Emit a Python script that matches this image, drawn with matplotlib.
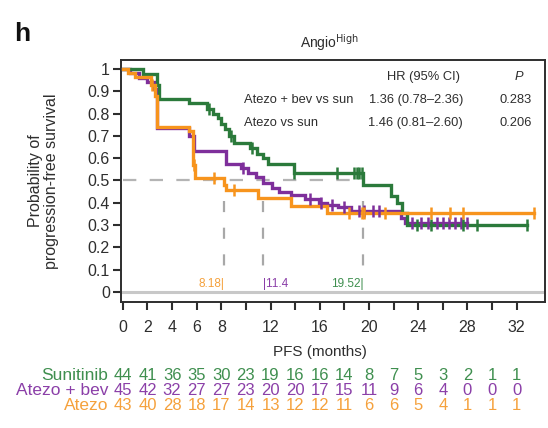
import numpy as np
import matplotlib
matplotlib.use("Agg")
import matplotlib.pyplot as plt
from matplotlib.transforms import blended_transform_factory

plt.rcParams['font.family'] = ['Liberation Sans', 'DejaVu Sans']

# Kaplan-Meier step data: times of drops (months) and survival after each drop
sun_t = [0, 1.6, 2.8, 2.9, 5.4, 6.8, 7.3, 7.7, 8.0, 8.3, 8.6, 9.0, 10.3, 10.9,
         11.4, 11.8, 13.9, 19.52, 21.8, 22.3, 22.7, 23.1]
sun_s = [1.0, 0.977, 0.93, 0.865, 0.845, 0.82, 0.80, 0.78, 0.755, 0.73, 0.70,
         0.67, 0.645, 0.62, 0.60, 0.575, 0.535, 0.48, 0.43, 0.40, 0.355, 0.30]
sun_end = 32.8
sun_cens = [7.0, 8.8, 10.5, 13.9, 17.4, 18.8, 19.0, 19.2, 19.4, 23.9, 25.0,
            27.6, 28.8, 32.8]

bev_t = [0, 0.6, 1.3, 2.0, 2.5, 2.8, 5.4, 5.8, 8.4, 9.6, 10.2, 10.8, 11.4,
         12.1, 12.7, 13.7, 14.8, 15.9, 16.6, 17.5, 18.5, 22.6, 22.9]
bev_s = [1.0, 0.98, 0.96, 0.94, 0.91, 0.735, 0.70, 0.63, 0.575, 0.555, 0.535,
         0.515, 0.49, 0.465, 0.45, 0.435, 0.415, 0.40, 0.39, 0.38, 0.365,
         0.33, 0.31]
bev_end = 28.0
bev_cens = [9.8, 15.2, 16.1, 17.0, 18.0, 19.2, 19.6, 20.3, 20.8, 23.5, 24.2,
            24.8, 25.5, 26.0, 26.5, 27.0, 27.5, 28.0]

atz_t = [0, 0.4, 1.0, 2.3, 2.6, 2.8, 5.4, 5.7, 5.9, 8.18, 8.4, 11.0, 13.7, 16.6]
atz_s = [1.0, 0.98, 0.965, 0.93, 0.88, 0.74, 0.72, 0.57, 0.51, 0.48, 0.455,
         0.42, 0.385, 0.355]
atz_end = 33.4
atz_cens = [2.4, 5.8, 7.4, 9.0, 18.4, 19.4, 19.6, 21.3, 25.0, 26.6, 27.6, 33.4]

medians = [8.18, 11.4, 19.52]
median_labels = ["8.18|", "|11.4", "19.52|"]

risk_times = list(range(0, 33, 2))
risk_names = ["Sunitinib", "Atezo + bev", "Atezo"]
risk_sun = [44, 41, 36, 35, 30, 23, 19, 16, 16, 14, 8, 7, 5, 3, 2, 1, 1]
risk_bev = [45, 42, 32, 27, 27, 23, 20, 20, 17, 15, 11, 9, 6, 4, 0, 0, 0]
risk_atz = [43, 40, 28, 18, 17, 14, 13, 12, 12, 11, 6, 6, 5, 4, 1, 1, 1]

hr_rows = [("Atezo + bev vs sun", "1.36 (0.78\u20132.36)", "0.283"),
           ("Atezo vs sun", "1.46 (0.81\u20132.60)", "0.206")]

GREEN = "#2b7a3b"
PURPLE = "#7e2f9b"
ORANGE = "#f7941d"
GREEN_T = "#3f8f4f"
PURPLE_T = "#8b3fa8"
ORANGE_T = "#f5a13c"
INK = "#2e2e2e"

W, H = 548, 428
fig = plt.figure(figsize=(W / 100, H / 100), dpi=100)


def px(x, y):
    return x / W, 1 - y / H


ax_l, ax_r, ax_t, ax_b = 121, 545, 60, 302
ax = fig.add_axes([ax_l / W, 1 - ax_b / H, (ax_r - ax_l) / W, (ax_b - ax_t) / H])
ax.set_xlim(-0.15, 34.3)
ax.set_ylim(-0.045, 1.04)

# reference lines
ax.axhline(0, color="#c8c8c8", lw=2.2, zorder=1)
ax.plot([0, medians[2]], [0.5, 0.5], color="#b4b4b4", lw=1.6,
        dashes=(6, 6), zorder=1)
for m in medians:
    ax.plot([m, m], [0.41, 0.08], color="#a8a8a8", lw=1.6, dashes=(5, 7),
            zorder=1)


def step_value(ts, ss, t):
    i = np.searchsorted(ts, t, side="right") - 1
    return ss[i]


def km(ts, ss, end, cens, color):
    xs = list(ts) + [end]
    ys = list(ss) + [ss[-1]]
    ax.step(xs, ys, where="post", color=color, lw=2.4, zorder=3,
            solid_joinstyle="miter")
    cy = [step_value(ts, ss, c) for c in cens]
    ax.plot(cens, cy, ls="none", marker="|", ms=9, mew=1.8, color=color,
            zorder=4)


km(bev_t, bev_s, bev_end, bev_cens, PURPLE)
km(sun_t, sun_s, sun_end, sun_cens, GREEN)
km(atz_t, atz_s, atz_end, atz_cens, ORANGE)

# median labels
ax.text(medians[0] + 0.05, 0.035, median_labels[0], color=ORANGE_T,
        ha="right", va="center", fontsize=8.5)
ax.text(medians[1] - 0.05, 0.035, median_labels[1], color=PURPLE_T,
        ha="left", va="center", fontsize=8.5)
ax.text(medians[2] + 0.05, 0.035, median_labels[2], color=GREEN_T,
        ha="right", va="center", fontsize=8.5)

# axes styling
for s in ax.spines.values():
    s.set_linewidth(1.4)
    s.set_color(INK)
ax.set_yticks(np.arange(0, 1.01, 0.1))
ax.set_yticklabels(["0"] + [f"{v:.1f}" for v in np.arange(0.1, 0.95, 0.1)] + ["1"])
major_x = [0, 2, 4, 6, 8, 12, 16, 20, 24, 28, 32]
ax.set_xticks(major_x)
ax.set_xticklabels([str(v) for v in major_x])
ax.set_xticks([10, 14, 18, 22, 26, 30], minor=True)
ax.tick_params(axis="both", which="both", direction="out", length=6,
               width=1.5, color=INK, labelsize=11.5, labelcolor=INK)
ax.tick_params(axis="x", which="both", pad=7)
ax.tick_params(axis="y", pad=2)

ax.set_ylabel("Probability of\nprogression-free survival", fontsize=11.5,
              color=INK, linespacing=1.05)
ax.yaxis.set_label_coords(59 / W, 0.5, transform=blended_transform_factory(
    fig.transFigure, ax.transAxes))
ax.set_xlabel("PFS (months)", fontsize=11, color=INK)
ax.xaxis.set_label_coords(16, 1 - 352 / H, transform=blended_transform_factory(
    ax.transData, fig.transFigure))
ax.xaxis.label.set_va("center")

# HR table
fs_hr = 9.3
fig.text(*px(460, 77), "HR (95% CI)", ha="right", va="center", fontsize=fs_hr,
         color=INK)
fig.text(*px(519, 77), "P", ha="center", va="center", fontsize=fs_hr,
         style="italic", color=INK)
for i, (a, b, c) in enumerate(hr_rows):
    y = 100 + i * 23
    fig.text(*px(244, y), a, ha="left", va="center", fontsize=fs_hr,
             color=INK)
    fig.text(*px(463, y), b, ha="right", va="center", fontsize=fs_hr,
             color=INK)
    fig.text(*px(532, y), c, ha="right", va="center", fontsize=fs_hr,
             color=INK)

# title and panel letter
fig.text(*px(330, 43), r"Angio$^{\mathrm{High}}$", ha="center", va="center",
         fontsize=10, color=INK)
fig.text(*px(14, 34), "h", ha="left", va="center", fontsize=19,
         fontweight="bold", color="#111111")

# numbers at risk
tr = blended_transform_factory(ax.transData, fig.transFigure)
rows = [(risk_sun, GREEN_T), (risk_bev, PURPLE_T), (risk_atz, ORANGE_T)]
for k, ((vals, col), name) in enumerate(zip(rows, risk_names)):
    y = 1 - (375 + k * 15.5) / H
    fig.text(108 / W, y, name, ha="right", va="center", fontsize=12.5, color=col)
    for t, v in zip(risk_times, vals):
        ax.text(t, y, str(v), transform=tr, ha="center", va="center",
                fontsize=12, color=col, clip_on=False)

fig.savefig("out.png", dpi=100)
